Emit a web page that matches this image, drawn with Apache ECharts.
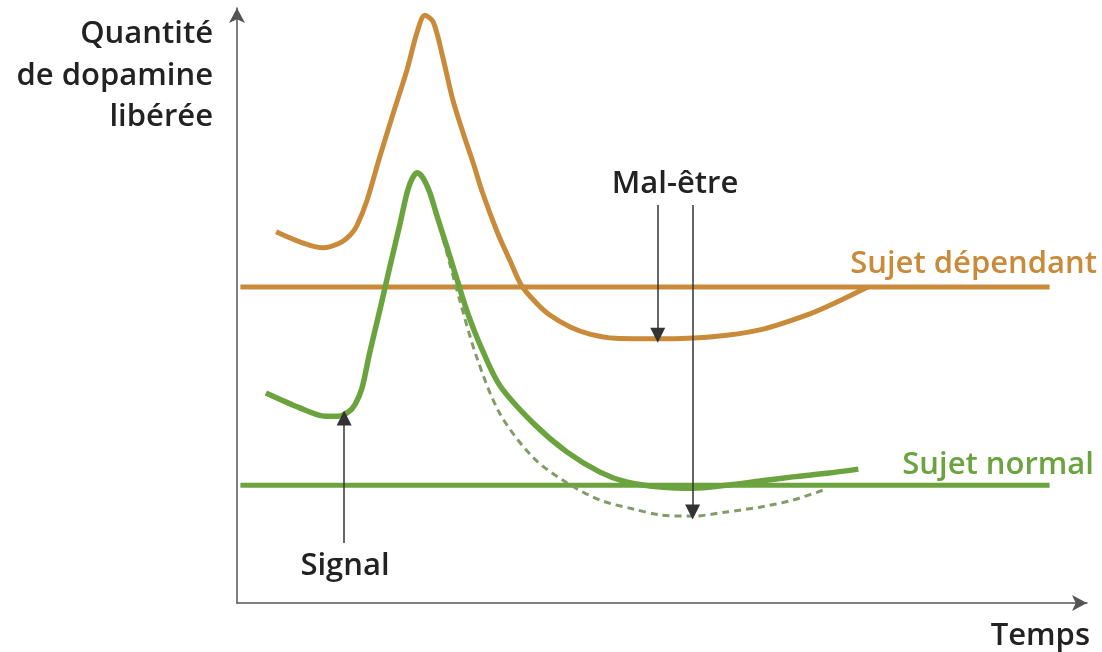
<!DOCTYPE html>
<html>
<head>
<meta charset="utf-8">
<script src="https://cdn.jsdelivr.net/npm/echarts@6/dist/echarts.min.js"></script>
<style>
html,body{margin:0;padding:0;background:#fff;}
#chart{width:1102px;height:652px;}
</style>
</head>
<body>
<div id="chart"></div>
<script>
// Schematic values (time 0-100, quantity 0-100)
const dependantTime = [4.6, 7.4, 10.1, 12.1, 13.3, 14.1, 15.3, 16.8, 18.4, 20.0, 21.2, 22.1, 23.1, 24.2, 25.4, 26.6, 27.8, 28.9, 30.6, 32.1, 33.5, 35.1, 36.8, 39.2, 41.5, 44.5, 49.8, 55.6, 61.5, 67.4, 70.9, 74.2];
const dependantQty  = [62.4, 60.7, 59.7, 60.5, 61.8, 63.4, 67.7, 75.0, 82.4, 89.6, 96.0, 98.8, 97.6, 91.8, 84.5, 79.0, 73.9, 68.9, 62.4, 57.6, 53.3, 50.6, 48.4, 46.4, 45.2, 44.5, 44.4, 44.7, 45.9, 48.6, 50.8, 53.1];

const normalTime = [3.4, 7.4, 10.4, 11.9, 13.1, 13.9, 14.7, 15.6, 16.8, 18.0, 19.2, 20.0, 20.6, 21.2, 21.9, 22.7, 23.5, 24.7, 25.9, 27.1, 28.6, 30.9, 34.8, 38.8, 42.7, 45.9, 49.8, 53.6, 57.6, 61.5, 65.4, 69.4, 73.1];
const normalQty  = [35.3, 32.8, 31.4, 31.4, 32.1, 33.4, 36.1, 42.0, 49.2, 56.6, 63.9, 68.9, 71.3, 72.3, 71.4, 68.9, 65.2, 59.8, 54.3, 48.9, 43.4, 36.6, 30.3, 25.4, 22.0, 20.3, 19.5, 19.3, 19.8, 20.5, 21.2, 21.8, 22.5];

const dashedTime = [23.5, 24.7, 26.2, 28.2, 30.9, 34.8, 38.8, 42.7, 46.6, 49.8, 53.6, 57.6, 61.5, 65.4, 69.4];
const dashedQty  = [65.2, 58.8, 50.9, 41.3, 31.9, 24.5, 20.2, 17.3, 15.8, 14.8, 14.6, 15.3, 16.1, 17.3, 19.2];

const baselineTime = [0.4, 95.6];
const dependantLevel = 53.1;
const normalLevel = 19.8;

const signalArrow = [[12.6, 10.1], [12.6, 31.1]];
const malArrow1 = [[49.5, 66.9], [49.5, 45.0]];
const malArrow2 = [[53.6, 66.9], [53.6, 15.3]];

const labels = {
  yTitle: ['Quantité', 'de dopamine', 'libérée'],
  xTitle: 'Temps',
  dependant: 'Sujet dépendant',
  normal: 'Sujet normal',
  signal: 'Signal',
  mal: 'Mal-être'
};

const zip = (a, b) => a.map((v, i) => [v, b[i]]);
const ORANGE = '#c98a3a';
const GREEN = '#6ba43f';
const DASH = '#829c68';
const TEXT = '#222222';
const FONT = '"Open Sans", "Noto Sans", sans-serif';

const chart = echarts.init(document.getElementById('chart'));
const txt = (text, x, y, color, align, size) => ({
  type: 'text',
  style: {
    text: text, x: x, y: y, fill: color,
    fontSize: size || 31, fontWeight: 600, fontFamily: FONT,
    textAlign: align, textVerticalAlign: 'middle',
    align: align, verticalAlign: 'middle'
  }
});

chart.setOption({
  animation: false,
  backgroundColor: '#ffffff',
  grid: { left: 237, right: 15, top: 8, bottom: 49 },
  xAxis: {
    type: 'value', min: 0, max: 100,
    axisLine: { show: true, symbol: ['none', 'arrow'], symbolSize: [12, 15], lineStyle: { color: '#555', width: 1.5 } },
    axisTick: { show: false }, axisLabel: { show: false }, splitLine: { show: false }
  },
  yAxis: {
    type: 'value', min: 0, max: 100,
    axisLine: { show: true, symbol: ['none', 'arrow'], symbolSize: [12, 15], lineStyle: { color: '#555', width: 1.5 } },
    axisTick: { show: false }, axisLabel: { show: false }, splitLine: { show: false }
  },
  series: [
    { type: 'line', data: zip(baselineTime, baselineTime.map(() => dependantLevel)), showSymbol: false, lineStyle: { color: ORANGE, width: 5 }, z: 2 },
    { type: 'line', data: zip(baselineTime, baselineTime.map(() => normalLevel)), showSymbol: false, lineStyle: { color: GREEN, width: 5 }, z: 2 },
    { type: 'line', data: zip(dashedTime, dashedQty), smooth: 0.3, showSymbol: false, lineStyle: { color: DASH, width: 3, type: [7, 5] }, z: 3 },
    { type: 'line', data: zip(dependantTime, dependantQty), smooth: 0.3, showSymbol: false, lineStyle: { color: ORANGE, width: 5 }, z: 4 },
    { type: 'line', data: zip(normalTime, normalQty), smooth: 0.3, showSymbol: false, lineStyle: { color: GREEN, width: 5.5 }, z: 4 },
    {
      type: 'lines', coordinateSystem: 'cartesian2d', z: 5,
      symbol: ['none', 'triangle'], symbolSize: 15,
      lineStyle: { color: '#333', width: 1.5, opacity: 1 },
      data: [
        { coords: signalArrow },
        { coords: malArrow1 },
        { coords: malArrow2 }
      ]
    }
  ],
  graphic: [
    txt(labels.yTitle[0], 213, 34, TEXT, 'right'),
    txt(labels.yTitle[1], 213, 76, TEXT, 'right'),
    txt(labels.yTitle[2], 213, 117, TEXT, 'right'),
    txt(labels.xTitle, 1090, 636, TEXT, 'right'),
    txt(labels.dependant, 1097, 264, ORANGE, 'right'),
    txt(labels.normal, 1094, 465, GREEN, 'right'),
    txt(labels.signal, 345, 566, TEXT, 'center'),
    txt(labels.mal, 675, 184, TEXT, 'center')
  ]
});
</script>
</body>
</html>
